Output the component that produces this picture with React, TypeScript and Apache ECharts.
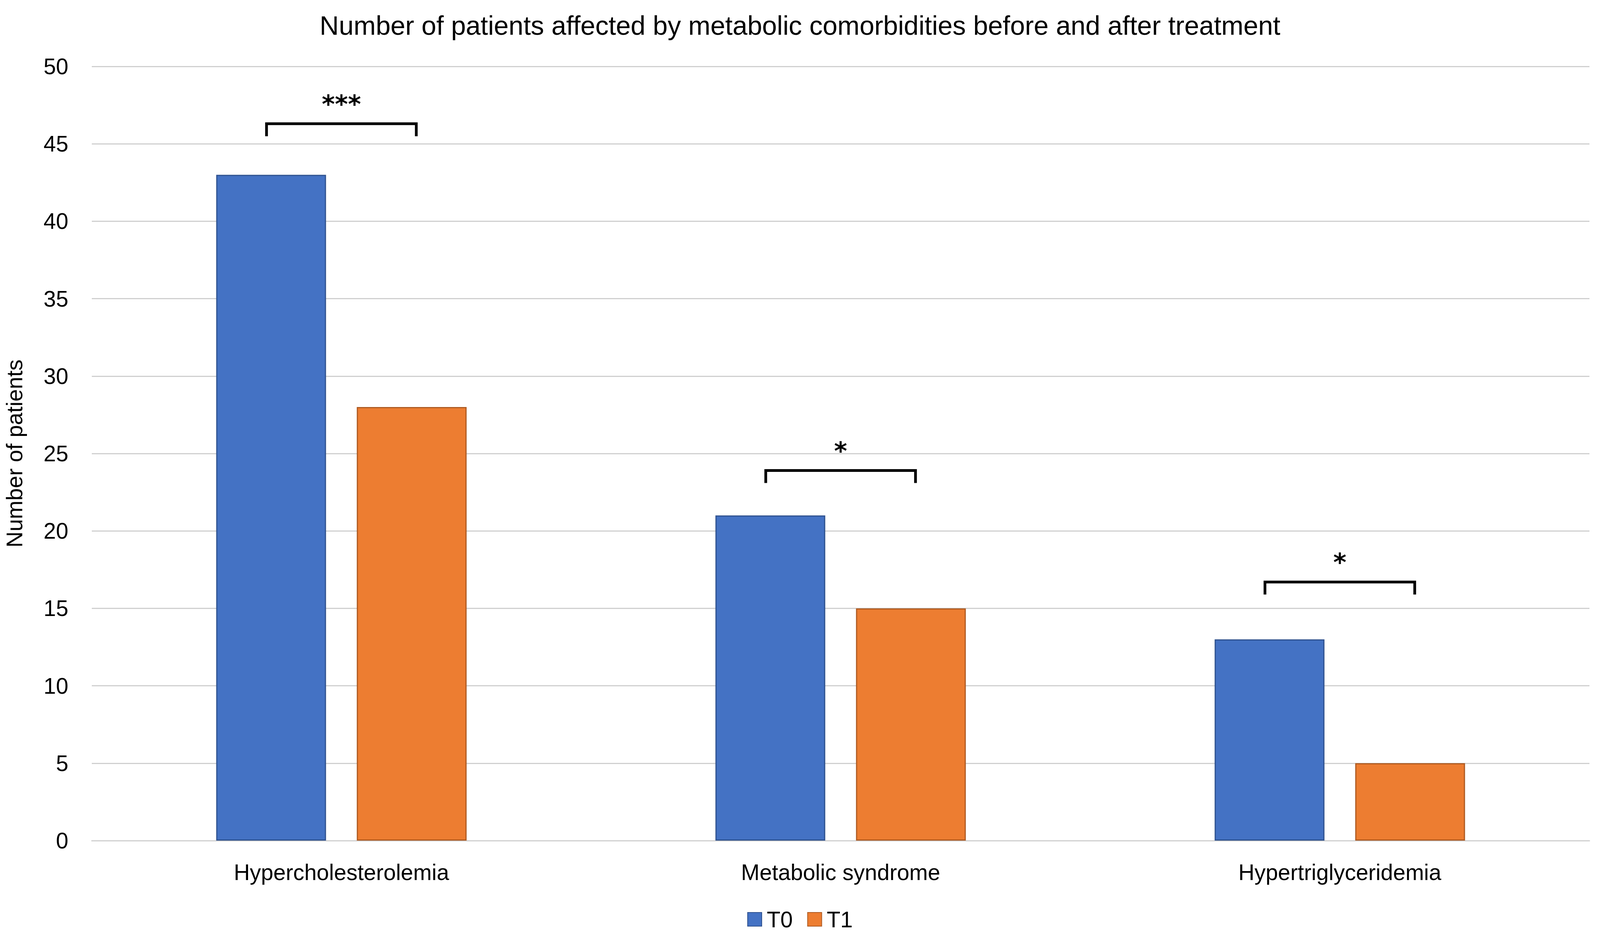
import React, { useEffect, useRef } from "react";
import * as echarts from "echarts";

const categories = ["Hypercholesterolemia", "Metabolic syndrome", "Hypertriglyceridemia"];
const seriesNames = ["T0", "T1"];
const t0Values = [43, 21, 13];
const t1Values = [28, 15, 5];
const bracketLevels = [46.3, 23.9, 16.7];
const bracketLabels = ["***", "*", "*"];
const yMin = 0;
const yMax = 50;
const yInterval = 5;

const FONT = "'Liberation Sans', Arial, sans-serif";

export default function App() {
  const ref = useRef<HTMLDivElement>(null);

  useEffect(() => {
    if (!ref.current) return;
    const chart = echarts.init(ref.current, undefined, { renderer: "svg" });
    const bracketData = categories.map((_, i) => [i, bracketLevels[i]]);

    chart.setOption({
      animation: false,
      backgroundColor: "#ffffff",
      title: {
        text: "Number of patients affected by metabolic comorbidities before and after treatment",
        left: "center",
        top: 26,
        textStyle: { fontFamily: FONT, fontSize: 68, fontWeight: "normal", color: "#000000" },
      },
      legend: {
        data: seriesNames,
        left: "center",
        top: 2320,
        itemWidth: 36,
        itemHeight: 35,
        itemGap: 37,
        icon: "rect",
        textStyle: { fontFamily: FONT, fontSize: 57, color: "#000000", padding: [0, 0, 0, 8] },
      },
      grid: { left: 219, right: 27, top: 170, bottom: 257, containLabel: false },
      xAxis: {
        type: "category",
        data: categories,
        axisTick: { show: false },
        axisLine: { lineStyle: { color: "#D0D0D0", width: 3 } },
        axisLabel: { fontFamily: FONT, fontSize: 57, color: "#000000", margin: 52 },
      },
      yAxis: {
        type: "value",
        min: yMin,
        max: yMax,
        interval: yInterval,
        name: "Number of patients",
        nameLocation: "middle",
        nameGap: 170,
        nameTextStyle: { fontFamily: FONT, fontSize: 57, color: "#000000" },
        axisLine: { show: false },
        axisTick: { show: false },
        splitLine: { lineStyle: { color: "#D0D0D0", width: 3 } },
        axisLabel: { fontFamily: FONT, fontSize: 57, color: "#000000", margin: 60 },
      },
      series: [
        {
          name: seriesNames[0],
          type: "bar",
          data: t0Values,
          barWidth: "22%",
          barGap: "28%",
          itemStyle: { color: "#4472C4", borderColor: "#2F528F", borderWidth: 3 },
        },
        {
          name: seriesNames[1],
          type: "bar",
          data: t1Values,
          barWidth: "22%",
          barGap: "28%",
          itemStyle: { color: "#ED7D31", borderColor: "#AE5A21", borderWidth: 3 },
        },
        {
          name: "brackets",
          type: "custom",
          coordinateSystem: "cartesian2d",
          silent: true,
          z: 10,
          data: bracketData,
          encode: { x: 0, y: 1 },
          renderItem: (params: any, api: any) => {
            const idx = api.value(0);
            const lvl = api.value(1);
            const label = bracketLabels[params.dataIndex];
            const p = api.coord([idx, lvl]);
            const band = api.size([1, 0])[0];
            const half = band * 0.15;
            const tick = 32;
            return {
              type: "group",
              children: [
                {
                  type: "polyline",
                  shape: {
                    points: [
                      [p[0] - half, p[1] + tick],
                      [p[0] - half, p[1]],
                      [p[0] + half, p[1]],
                      [p[0] + half, p[1] + tick],
                    ],
                  },
                  style: { stroke: "#000000", lineWidth: 7, fill: null },
                },
                {
                  type: "text",
                  x: p[0],
                  y: p[1] - 50,
                  style: {
                    text: label,
                    fontFamily: "'DejaVu Sans', sans-serif",
                    fontWeight: "bold",
                    fontSize: 64,
                    fill: "#000000",
                    align: "center",
                    verticalAlign: "middle",
                  },
                },
              ],
            };
          },
        },
      ],
    });

    return () => {
      chart.dispose();
    };
  }, []);

  return (
    <div
      ref={ref}
      style={{ position: "fixed", left: 0, top: 0, width: "100vw", height: "100vh", background: "#fff" }}
    />
  );
}
